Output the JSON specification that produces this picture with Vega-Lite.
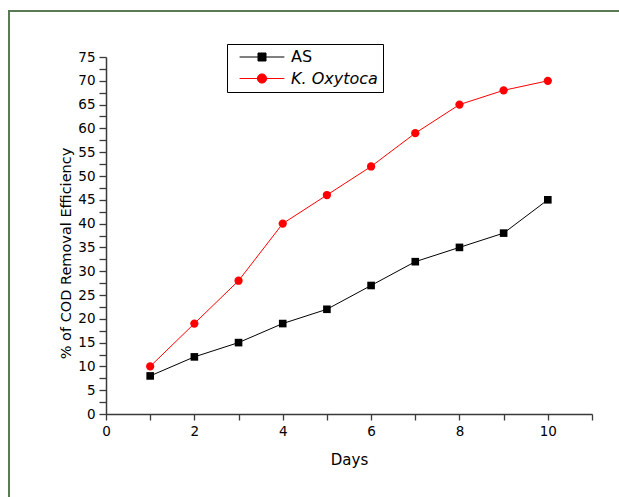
{
  "$schema": "https://vega.github.io/schema/vega-lite/v6.json",
  "width": 486,
  "height": 357,
  "autosize": {"type": "none"},
  "padding": {"left": 106, "top": 57, "right": 27, "bottom": 83},
  "background": "white",
  "config": {
    "view": {"stroke": null},
    "font": "DejaVu Sans",
    "axis": {
      "grid": false,
      "domainColor": "#3a3a3a",
      "domainWidth": 1.5,
      "tickColor": "#3a3a3a",
      "tickWidth": 1.3,
      "labelColor": "#000000",
      "labelFont": "DejaVu Sans",
      "labelFontSize": 13.5,
      "labelOverlap": false,
      "labelFlush": false,
      "titleColor": "#000000",
      "titleFont": "DejaVu Sans",
      "titleFontWeight": "normal"
    }
  },
  "data": {
    "values": [
      {"series": "AS", "day": 1, "value": 8},
      {"series": "AS", "day": 2, "value": 12},
      {"series": "AS", "day": 3, "value": 15},
      {"series": "AS", "day": 4, "value": 19},
      {"series": "AS", "day": 5, "value": 22},
      {"series": "AS", "day": 6, "value": 27},
      {"series": "AS", "day": 7, "value": 32},
      {"series": "AS", "day": 8, "value": 35},
      {"series": "AS", "day": 9, "value": 38},
      {"series": "AS", "day": 10, "value": 45},
      {"series": "K. Oxytoca", "day": 1, "value": 10},
      {"series": "K. Oxytoca", "day": 2, "value": 19},
      {"series": "K. Oxytoca", "day": 3, "value": 28},
      {"series": "K. Oxytoca", "day": 4, "value": 40},
      {"series": "K. Oxytoca", "day": 5, "value": 46},
      {"series": "K. Oxytoca", "day": 6, "value": 52},
      {"series": "K. Oxytoca", "day": 7, "value": 59},
      {"series": "K. Oxytoca", "day": 8, "value": 65},
      {"series": "K. Oxytoca", "day": 9, "value": 68},
      {"series": "K. Oxytoca", "day": 10, "value": 70}
    ]
  },
  "layer": [
    {
      "mark": {"type": "line", "strokeWidth": 1},
      "encoding": {
        "x": {
          "field": "day",
          "type": "quantitative",
          "scale": {"domain": [0, 11], "nice": false, "zero": false},
          "axis": {
            "title": "Days",
            "titleFontSize": 15,
            "titleBaseline": "middle",
            "titleY": 45,
            "values": [0, 1, 2, 3, 4, 5, 6, 7, 8, 9, 10, 11],
            "labelExpr": "datum.value % 2 === 0 && datum.value <= 10 ? datum.label : ''",
            "tickSize": 6,
            "labelPadding": 4,
            "encode": {"ticks": {"update": {"y2": {"signal": "datum.value % 2 === 0 ? 6 : 3"}}}}
          }
        },
        "y": {
          "field": "value",
          "type": "quantitative",
          "scale": {"domain": [0, 75], "nice": false, "zero": false},
          "axis": {
            "title": "% of COD Removal Efficiency",
            "titleFontSize": 14.5,
            "titleBaseline": "middle",
            "titleX": -40,
            "titleY": 196,
            "values": [0, 2.5, 5, 7.5, 10, 12.5, 15, 17.5, 20, 22.5, 25, 27.5, 30, 32.5, 35, 37.5, 40, 42.5, 45, 47.5, 50, 52.5, 55, 57.5, 60, 62.5, 65, 67.5, 70, 72.5, 75],
            "labelExpr": "datum.value % 5 === 0 ? datum.label : ''",
            "tickSize": 7,
            "labelPadding": 4,
            "encode": {
              "ticks": {"update": {"x2": {"signal": "datum.value % 5 === 0 ? -7 : -3"}}},
              "labels": {"update": {"fontSize": {"signal": "datum.value % 5 === 0 ? 13.5 : 0"}}}
            }
          }
        },
        "color": {
          "field": "series",
          "type": "nominal",
          "scale": {"domain": ["AS", "K. Oxytoca"], "range": ["#000000", "#ff0000"]},
          "legend": {
            "title": null,
            "orient": "none",
            "legendX": 121,
            "legendY": -13,
            "padding": 5,
            "rowPadding": 5.5,
            "strokeColor": "#000000",
            "fillColor": "#ffffff",
            "symbolSize": 64,
            "symbolOffset": 22,
            "labelOffset": 21,
            "labelFont": "DejaVu Sans",
            "labelFontSize": 16,
            "labelColor": "#000000",
            "encode": {
              "symbols": {
                "update": {
                  "shape": {"signal": "datum.value === 'AS' ? 'M-5.6,0H5.6M-1,-1H1V1H-1Z' : 'M-5.6,0H5.6M-1.15,0A1.15,1.15,0,1,0,1.15,0A1.15,1.15,0,1,0,-1.15,0Z'"},
                  "fill": {"signal": "datum.value === 'AS' ? '#000000' : '#ff0000'"},
                  "stroke": {"signal": "datum.value === 'AS' ? '#000000' : '#ff0000'"},
                  "strokeWidth": {"value": 1},
                  "opacity": {"value": 1},
                  "size": {"value": 64}
                }
              },
              "labels": {
                "update": {
                  "fontStyle": {"signal": "datum.value === 'AS' ? 'normal' : 'italic'"}
                }
              }
            }
          }
        }
      }
    },
    {
      "transform": [{"filter": "datum.series === 'AS'"}],
      "mark": {"type": "point", "filled": true, "opacity": 1, "shape": "square", "size": 58, "color": "#000000"},
      "encoding": {
        "x": {"field": "day", "type": "quantitative"},
        "y": {
          "field": "value",
          "type": "quantitative",
          "axis": {"values": [0, 2.5, 5, 7.5, 10, 12.5, 15, 17.5, 20, 22.5, 25, 27.5, 30, 32.5, 35, 37.5, 40, 42.5, 45, 47.5, 50, 52.5, 55, 57.5, 60, 62.5, 65, 67.5, 70, 72.5, 75]}
        }
      }
    },
    {
      "transform": [{"filter": "datum.series === 'K. Oxytoca'"}],
      "mark": {"type": "point", "filled": true, "opacity": 1, "shape": "circle", "size": 68, "color": "#ff0000"},
      "encoding": {
        "x": {"field": "day", "type": "quantitative"},
        "y": {
          "field": "value",
          "type": "quantitative",
          "axis": {"values": [0, 2.5, 5, 7.5, 10, 12.5, 15, 17.5, 20, 22.5, 25, 27.5, 30, 32.5, 35, 37.5, 40, 42.5, 45, 47.5, 50, 52.5, 55, 57.5, 60, 62.5, 65, 67.5, 70, 72.5, 75]}
        }
      }
    },
    {
      "mark": {"type": "rule", "color": "#5b7b56", "strokeWidth": 1.5},
      "encoding": {
        "x": {"datum": -2.2, "type": "quantitative"},
        "y": {
          "datum": 84.7,
          "type": "quantitative",
          "axis": {"values": [0, 2.5, 5, 7.5, 10, 12.5, 15, 17.5, 20, 22.5, 25, 27.5, 30, 32.5, 35, 37.5, 40, 42.5, 45, 47.5, 50, 52.5, 55, 57.5, 60, 62.5, 65, 67.5, 70, 72.5, 75]}
        },
        "y2": {"datum": -20}
      }
    },
    {
      "mark": {"type": "rule", "color": "#5b7b56", "strokeWidth": 1.5},
      "encoding": {
        "x": {"datum": -2.2, "type": "quantitative"},
        "x2": {"datum": 12},
        "y": {
          "datum": 84.7,
          "type": "quantitative",
          "axis": {"values": [0, 2.5, 5, 7.5, 10, 12.5, 15, 17.5, 20, 22.5, 25, 27.5, 30, 32.5, 35, 37.5, 40, 42.5, 45, 47.5, 50, 52.5, 55, 57.5, 60, 62.5, 65, 67.5, 70, 72.5, 75]}
        }
      }
    }
  ]
}
